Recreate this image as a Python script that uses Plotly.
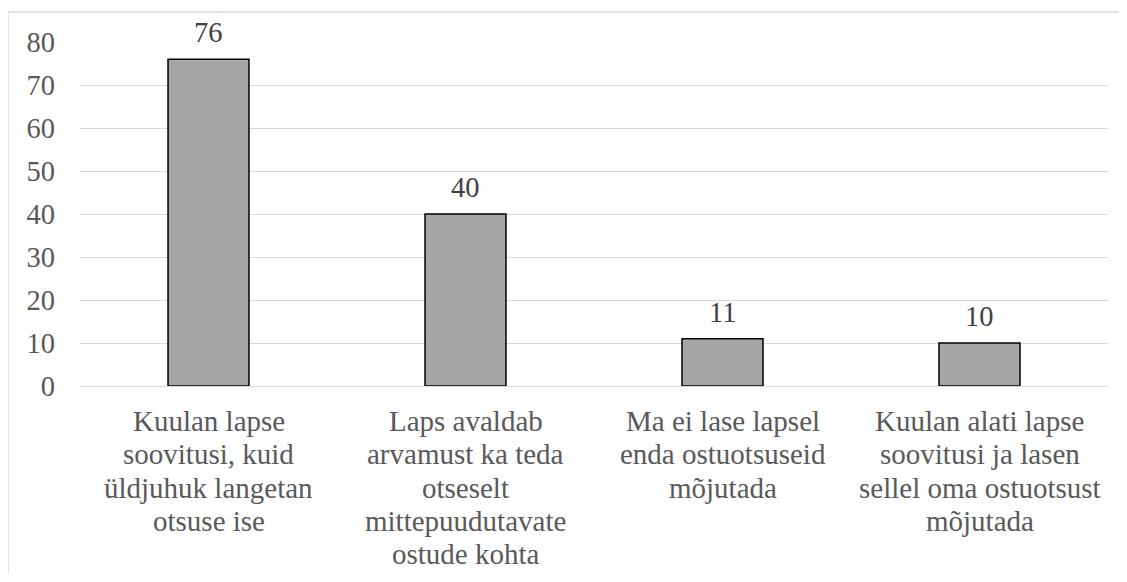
import plotly.graph_objects as go

categories = [
    "Kuulan lapse<br>soovitusi, kuid<br>üldjuhuk langetan<br>otsuse ise",
    "Laps avaldab<br>arvamust ka teda<br>otseselt<br>mittepuudutavate<br>ostude kohta",
    "Ma ei lase lapsel<br>enda ostuotsuseid<br>mõjutada",
    "Kuulan alati lapse<br>soovitusi ja lasen<br>sellel oma ostuotsust<br>mõjutada",
]
values = [76, 40, 11, 10]
y_ticks = [0, 10, 20, 30, 40, 50, 60, 70, 80]

FONT = "Liberation Serif"
FSIZE = 28.5
LINE_GAP = 33.3     # Word-like line spacing for category labels (px)
FIRST_LINE = 35     # px below the zero line to the first label line

fig = go.Figure(
    go.Bar(
        x=categories,
        y=values,
        marker=dict(color="#A6A6A6", line=dict(color="#000000", width=1.5)),
        cliponaxis=False,
        width=0.315,
        hoverinfo="x+y",
    )
)

annotations = []
# value labels above the bars
for cat, v in zip(categories, values):
    annotations.append(
        dict(
            x=cat,
            y=v,
            xref="x",
            yref="y",
            text=str(v),
            showarrow=False,
            xanchor="center",
            yanchor="bottom",
            yshift=9,
            font=dict(family=FONT, size=FSIZE, color="#404040"),
        )
    )
# category labels, one annotation per line for tighter (Word-like) line spacing
for cat in categories:
    for i, line in enumerate(cat.split("<br>")):
        annotations.append(
            dict(
                x=cat,
                y=0,
                xref="x",
                yref="y",
                text=line,
                showarrow=False,
                xanchor="center",
                yanchor="middle",
                yshift=-(FIRST_LINE + i * LINE_GAP),
                font=dict(family=FONT, size=FSIZE + 0.5, color="#595959"),
            )
        )

fig.update_layout(
    width=1111,
    height=566,
    margin=dict(l=72, r=11, t=34, b=188),
    paper_bgcolor="white",
    plot_bgcolor="white",
    showlegend=False,
    font=dict(family=FONT, size=FSIZE, color="#595959"),
    xaxis=dict(
        showgrid=False,
        showline=False,
        ticks="",
        showticklabels=False,
    ),
    yaxis=dict(
        range=[0, 80],
        tickvals=y_ticks,
        showgrid=True,
        gridcolor="#D9D9D9",
        gridwidth=1.3,
        zeroline=True,
        zerolinecolor="#D9D9D9",
        zerolinewidth=1.3,
        showline=False,
        ticks="",
        tickfont=dict(family=FONT, size=FSIZE, color="#595959"),
        ticklabelstandoff=24,
    ),
    annotations=annotations,
    shapes=[
        dict(
            type="rect",
            xref="paper",
            yref="paper",
            x0=-0.070,
            x1=1.03,
            y0=-0.62,
            y1=1.0872,
            line=dict(color="#D9D9D9", width=1.3),
            fillcolor="rgba(0,0,0,0)",
            layer="below",
        )
    ],
)

fig.write_html("out.html")
